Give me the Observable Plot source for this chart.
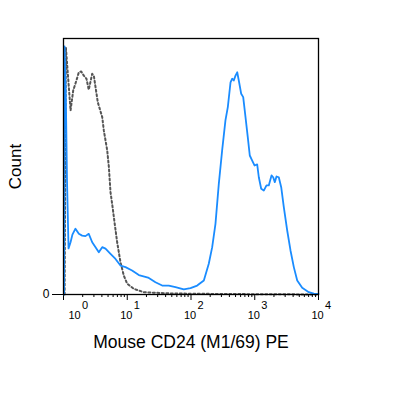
<!DOCTYPE html>
<html>
<head>
<meta charset="utf-8">
<script src="https://cdn.jsdelivr.net/npm/d3@7"></script>
<script src="https://cdn.jsdelivr.net/npm/@observablehq/plot@0.6"></script>
<style>
  html, body { margin: 0; padding: 0; background: #fff; }
  #chart { width: 395px; height: 395px; }
</style>
</head>
<body>
<div id="chart"></div>
<script>
// Sample (CD24 PE, blue solid)
const cdX = [1.02,1.04,1.09,1.135,1.20,1.29,1.38,1.54,1.74,1.96,2.21,2.49,2.82,3.18,3.58,4.05,4.56,5.46,6.54,7.83,9.39,11.9,15.2,21.2,27.7,35.3,44.8,57.1,77.1,98.2,125,159,190,215,242,273,308,347,378,417,443,469,499,531,562,613,659,716,778,836,912,991,1092,1158,1262,1387,1528,1660,1832,1946,2063,2194,2383,2600,2857,3229,3638,4101,4636,5549,7044,8440,10000];
const cdY = [0,96.9,75.8,44.5,18.0,20.4,23.4,25.7,23.7,23.0,22.8,23.7,20.4,18.5,16.5,18.5,17.9,15.9,13.9,11.3,10.7,9.4,7.6,6.6,4.8,3.5,3.5,2.9,2.0,2.5,3.5,5.5,12.0,18.5,27.6,43.2,56.3,68.0,73.2,82.9,84.3,83.6,85.5,86.8,83.6,78.4,77.1,69.3,61.4,54.3,52.3,50.4,50.8,45.8,41.3,40.6,42.6,42.6,46.5,45.8,43.9,46.1,45.8,41.9,34.1,25.0,17.2,10.7,5.5,2.6,0.9,0.3,0.2];
// Isotype control (dotted)
const isoX = [1.04,1.09,1.29,1.42,1.54,1.74,1.90,2.08,2.29,2.49,2.82,2.99,3.18,3.45,3.80,4.05,4.29,4.56,4.85,5.14,5.46,5.93,6.31,6.95,7.83,8.83,9.98,12.7,18.2,47.7,290,10000];
const isoY = [0,96.5,71.9,79.7,82.4,86.8,87.1,85.5,84.3,80.0,86.2,85.5,81.0,75.1,71.6,69.3,64.1,60.2,56.3,50.0,40.0,33.6,28.2,20.4,12.6,7.4,4.2,2.2,0.9,0.4,0.2,0];

const majorTicks = [1, 10, 100, 1000, 10000];
const tickBase = ["10", "10", "10", "10", "10"];
const tickExponents = ["0", "1", "2", "3", "4"];
const minorTicks = [];
for (let k = 0; k < 4; k++) for (let m = 2; m <= 9; m++) minorTicks.push(m * Math.pow(10, k));
const yTicks = [0];
const xLabel = "Mouse CD24 (M1/69) PE";
const yLabel = "Count";

const cdData = cdX.map((x, i) => ({x, y: cdY[i]}));
const isoData = isoX.map((x, i) => ({x, y: isoY[i]}));
const majors = majorTicks.map((v, i) => ({v, b: tickBase[i], e: tickExponents[i]}));
const firstMajor = majors.slice(0, 1);
const otherMajors = majors.slice(1);

const font = "'Liberation Sans', Arial, Helvetica, sans-serif";
const pxPerUnit = (395 - 38 - 101) / 100; // y pixels per count unit
const minorLen = -3 / pxPerUnit;

const labelMarks = (data, dxBase) => [
  Plot.text(data, {x: "v", frameAnchor: "bottom", text: "b", fontSize: 11, fill: "#000",
    dx: dxBase, dy: 21, textAnchor: "middle", lineAnchor: "middle"}),
  Plot.text(data, {x: "v", frameAnchor: "bottom", text: "e", fontSize: 11, fill: "#000",
    dx: dxBase + 7.5, dy: 11, textAnchor: "start", lineAnchor: "middle"})
];

const chart = Plot.plot({
  width: 395,
  height: 395,
  marginLeft: 63,
  marginRight: 77,
  marginTop: 38,
  marginBottom: 101,
  style: {fontFamily: font, background: "#fff", color: "#000", fontSize: "12px"},
  x: {type: "log", domain: [1, 10000], ticks: majorTicks, tickSize: 6, tickFormat: () => "", label: null},
  y: {domain: [0, 100], ticks: yTicks, tickSize: 11, tickPadding: 3, tickFormat: d => String(d), label: null},
  marks: [
    Plot.line(isoData, {x: "x", y: "y", stroke: "#555", strokeWidth: 2, strokeDasharray: "2,2.5"}),
    Plot.line(cdData, {x: "x", y: "y", stroke: "#1a8cff", strokeWidth: 1.8}),
    Plot.frame({stroke: "#000", strokeWidth: 1.3}),
    Plot.ruleX(minorTicks, {x: d => d, y1: 0, y2: minorLen, stroke: "#000"}),
    ...labelMarks(firstMajor, 11),
    ...labelMarks(otherMajors, -1),
    Plot.text([xLabel], {frameAnchor: "bottom", text: d => d, fontSize: 17.5, dy: 48, fill: "#000",
      textAnchor: "middle", lineAnchor: "middle"}),
    Plot.text([yLabel], {frameAnchor: "left", text: d => d, fontSize: 17, dx: -48, rotate: -90, fill: "#000",
      textAnchor: "middle", lineAnchor: "middle"})
  ]
});

document.getElementById("chart").appendChild(chart);
</script>
</body>
</html>
